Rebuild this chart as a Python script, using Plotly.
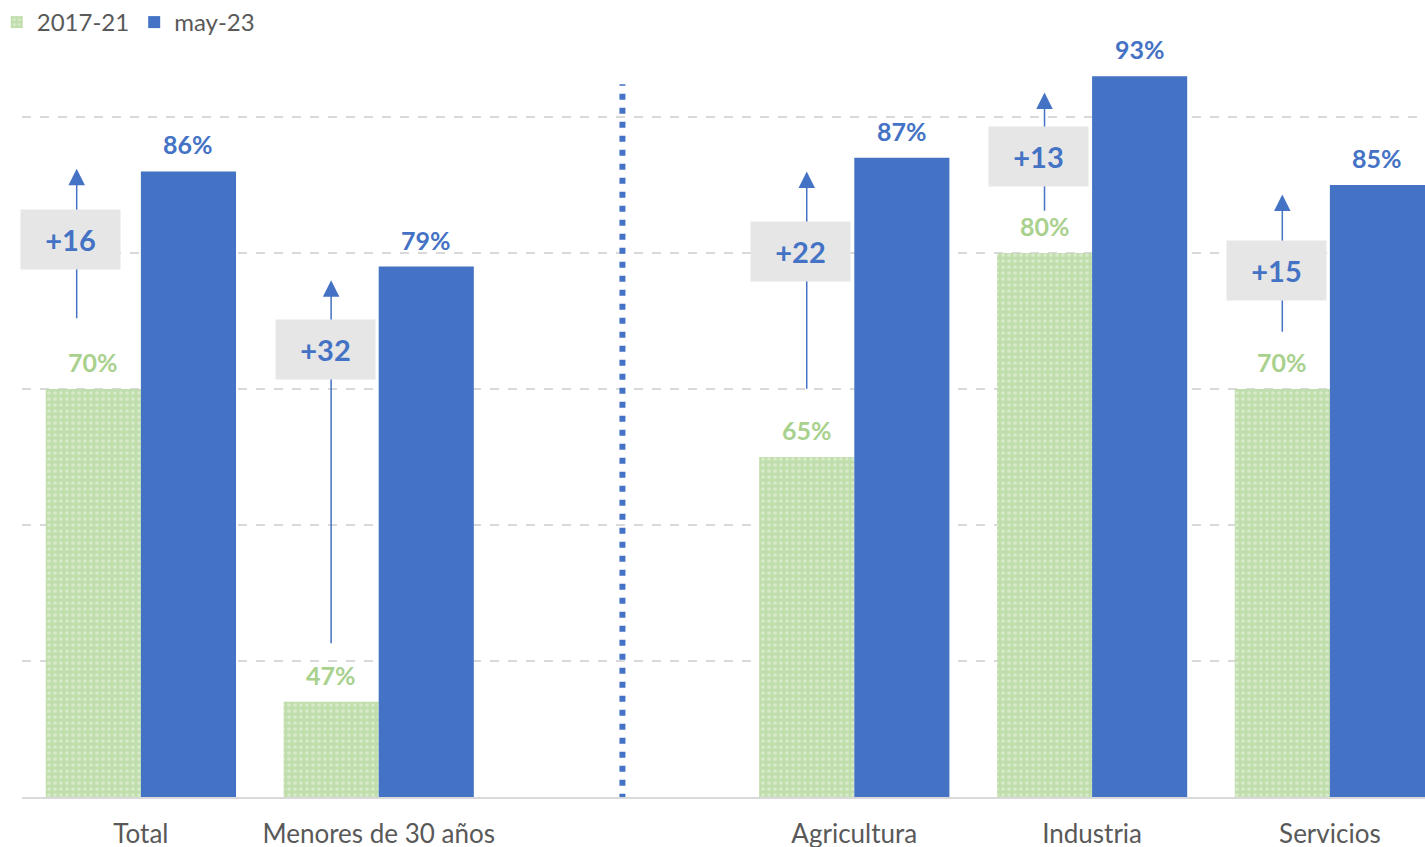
import plotly.graph_objects as go

categories = ["Total", "Menores de 30 años", " ", "Agricultura", "Industria", "Servicios"]
values_2017_21 = [70, 47, None, 65, 80, 70]
values_may_23 = [86, 79, None, 87, 93, 85]
series_names = ["2017-21", "may-23"]

# annotation layout offsets (percentage points relative to the bar values)
arrow_start_gap = [5.1, 4.2, None, 4.9, 3.0, 4.1]   # above the 2017-21 bar
arrow_end_gap = [-0.2, 1.0, None, 1.0, 1.2, 0.7]    # below the may-23 bar
box_gap = [5.0, 6.1, None, 6.9, 5.9, 6.25]          # box centre below may-23 bar

BLUE = "#4472c4"
GREEN_TXT = "#a9d18e"
GREEN_BG = "#c0ddac"
GREEN_FG = "#eef7e8"
GRAY_TXT = "#595959"
FONT = "Lato"

fig = go.Figure()
fig.add_trace(go.Bar(
    x=categories, y=values_2017_21, name=series_names[0],
    marker=dict(color=GREEN_BG, line=dict(width=0),
                pattern=dict(shape=".", bgcolor=GREEN_BG, fgcolor=GREEN_FG,
                             size=6, solidity=0.3)),
    hoverinfo="skip",
))
fig.add_trace(go.Bar(
    x=categories, y=values_may_23, name=series_names[1],
    marker=dict(color=BLUE, line=dict(width=0)),
    hoverinfo="skip",
))

annotations = []
for i, (g, b) in enumerate(zip(values_2017_21, values_may_23)):
    if g is None or b is None:
        continue
    annotations.append(dict(x=i - 0.2, y=g, xref="x", yref="y", text=f"{g}%",
                            showarrow=False, yanchor="bottom", yshift=10,
                            font=dict(family=FONT, size=25, color=GREEN_TXT, weight="bold")))
    annotations.append(dict(x=i + 0.2, y=b, xref="x", yref="y", text=f"{b}%",
                            showarrow=False, yanchor="bottom", yshift=10,
                            font=dict(family=FONT, size=25, color=BLUE, weight="bold")))

for i, (g, b) in enumerate(zip(values_2017_21, values_may_23)):
    if g is None or b is None:
        continue
    ax_x = i - 0.2 - (0.07 if i == 0 else 0.0)
    annotations.append(dict(x=ax_x, y=b - arrow_end_gap[i], xref="x", yref="y",
                            ax=ax_x, ay=g + arrow_start_gap[i], axref="x", ayref="y",
                            text="", showarrow=True, arrowhead=2, arrowsize=2.2,
                            arrowwidth=1.5, arrowcolor=BLUE, standoff=0, startstandoff=0))
    annotations.append(dict(x=ax_x - 0.025, y=b - box_gap[i], xref="x", yref="y",
                            text=f"+{b - g}", showarrow=False, bgcolor="#e7e6e6",
                            width=97, height=57, align="center", valign="middle",
                            font=dict(family=FONT, size=29, color=BLUE, weight="bold")))

fig.update_layout(
    width=1425, height=847,
    margin=dict(l=22, r=0, t=0, b=50, autoexpand=False),
    paper_bgcolor="white", plot_bgcolor="white",
    barmode="group", bargap=0.2, bargroupgap=0,
    showlegend=True,
    legend=dict(orientation="h", x=-0.018, y=1.0, xanchor="left", yanchor="top",
                font=dict(family=FONT, size=24, color=GRAY_TXT),
                itemwidth=30, bgcolor="rgba(0,0,0,0)", tracegroupgap=0),
    font=dict(family=FONT, size=22, color=GRAY_TXT),
    annotations=annotations,
    shapes=[dict(type="line", xref="x", yref="y", x0=2.025, x1=2.025, y0=39.8, y1=92.4,
                 line=dict(color=BLUE, width=6, dash="6px,8px"), layer="above")],
)
fig.update_xaxes(type="category", range=[-0.5, 5.4], showgrid=False, automargin=False,
                 showline=True, linecolor="#d9d9d9", linewidth=2,
                 ticks="outside", ticklen=13, tickcolor="rgba(0,0,0,0)",
                 tickfont=dict(family=FONT, size=26, color=GRAY_TXT))
fig.update_yaxes(range=[40, 40 + 797 / 13.6], tickvals=[50, 60, 70, 80, 90], automargin=False,
                 showticklabels=False, showgrid=True, gridcolor="#d9d9d9",
                 griddash="dash", gridwidth=1.5, zeroline=False, showline=False)

fig.write_html("out.html", config={"displayModeBar": False},
               post_script="document.body.style.margin='0';document.body.style.overflow='hidden';")
